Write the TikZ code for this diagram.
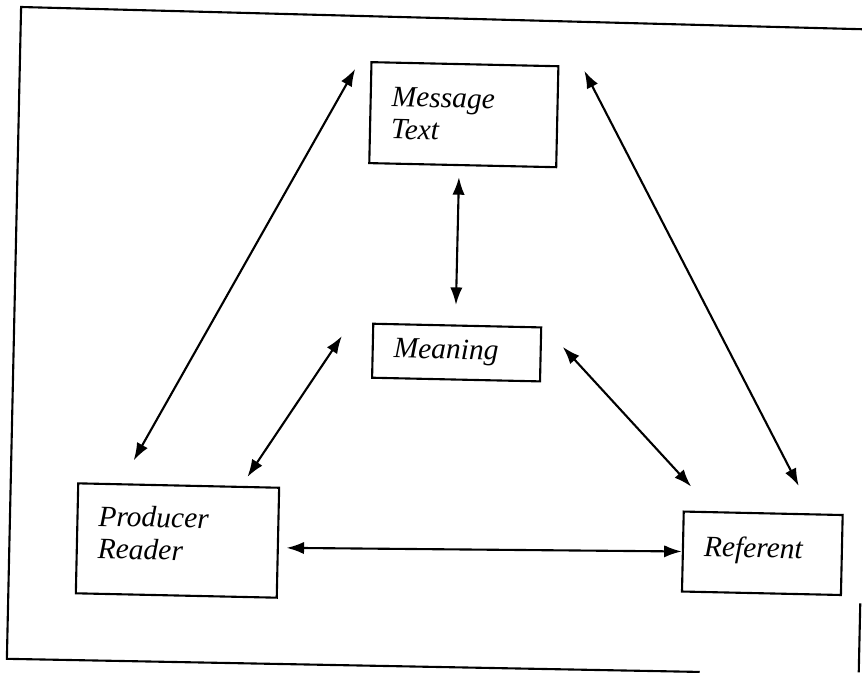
\documentclass[tikz,border=0pt]{standalone}
\usepackage{fontspec}
\setmainfont{Liberation Serif}[ItalicFont={Liberation Serif Italic}]
\usetikzlibrary{calc}
\usetikzlibrary{arrows.meta}
\tikzset{
  every picture/.style={
    >={Latex[width=7pt, length=10pt]}
  },
  concept box/.style={
    draw, line width=1.2pt, align=left,
    inner xsep=0.42cm, inner ysep=0pt,
    font=\fontsize{16.8}{18.5}\selectfont\itshape
  },
  double arrow/.style={
    <->, line width=1.2pt
  }
}

\begin{document}
\begin{tikzpicture}[x=0.02cm, y=-0.02cm]
  \useasboundingbox (0,0) rectangle (862,673);
  % the scan is turned a little
  \begin{scope}[rotate around={-1.25:(431,336)}, transform shape]
    \draw [line width=1.2pt] (880,20) -- (14,16) -- (14,668) -- (707,666);
    \draw [line width=1.2pt] (866,594) -- (866,663);

    \node [concept box, text width=2.9cm, minimum height=2.02cm]
      (msg) at (459,114) {Message\\Text};
    \node [concept box, text width=2.52cm, minimum height=1.08cm]
      (mean) at (457,352) {Meaning};
    \node [concept box, text width=3.18cm, minimum height=2.2cm, text depth=0.92cm]
      (prod) at (182,546) {Producer\\Reader};
    \node [concept box, text width=2.34cm, minimum height=1.6cm, text depth=0.24cm]
      (ref) at (767,546) {Referent};

    \draw [double arrow] ($(msg.north west)+(-15,8)$) -- ($(prod.north west)+(56,-23)$);
    \draw [double arrow] ($(msg.south)+(-3.5,11)$) -- ($(mean.north)+(-1.7,-19.5)$);
    \draw [double arrow] ($(msg.north east)+(25,5)$) -- ($(ref.north)+(35,-27)$);
    \draw [double arrow] ($(mean.west)+(-30,-14)$) -- ($(prod.north east)+(-33,-9)$);
    \draw [double arrow] ($(mean.east)+(21,-8)$) -- ($(ref.north west)+(8,-24)$);
    \draw [double arrow] ($(prod.east)+(7.6,5)$) -- (ref.west);
  \end{scope}
\end{tikzpicture}
\end{document}
